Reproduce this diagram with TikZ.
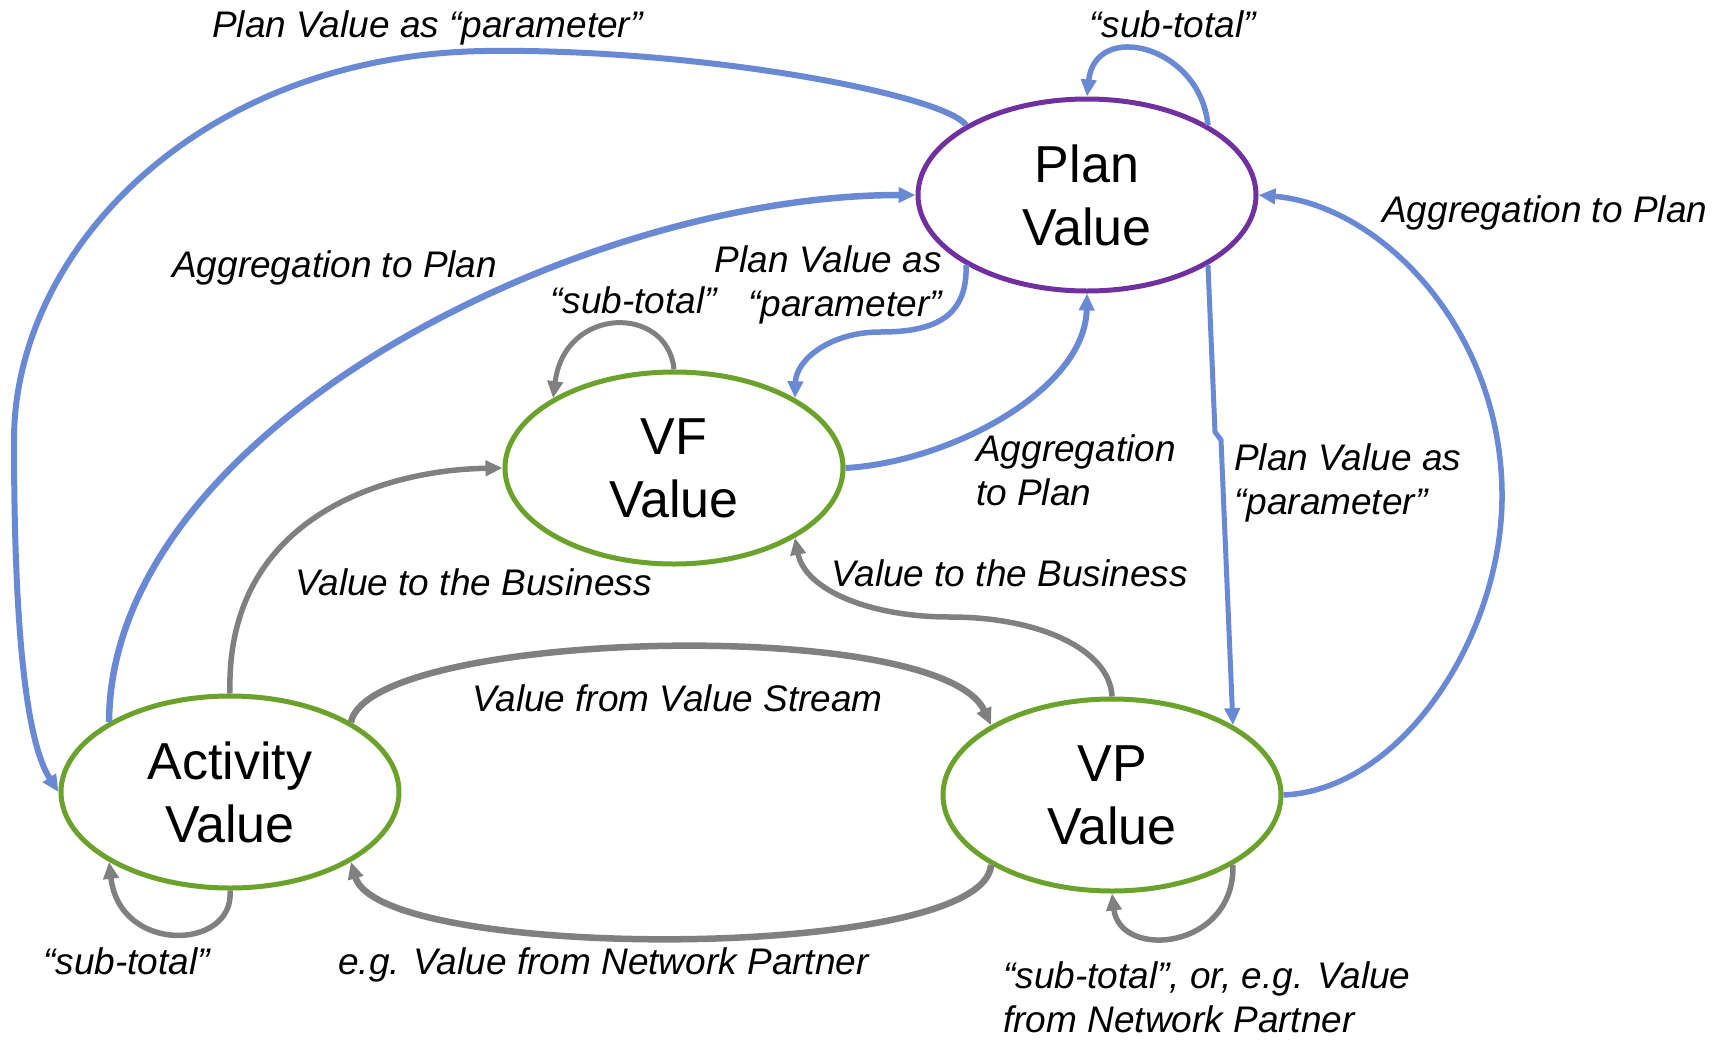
\documentclass[tikz,border=0pt]{standalone}
\usepackage{fontspec}
\setmainfont{Liberation Sans}
\usetikzlibrary{arrows.meta,shapes.geometric}
\definecolor{pvpurple}{HTML}{7030A0}
\definecolor{pvgreen}{HTML}{6AA22C}
\definecolor{pvblue}{HTML}{6A89D5}
\definecolor{pvgray}{HTML}{808080}
\begin{document}
\begin{tikzpicture}[x=1pt,y=-1pt,
 valnode/.style={ellipse, draw, line width=5pt, minimum width=338pt, minimum height=192pt, inner sep=0pt, align=center, font=\fontsize{52}{63}\selectfont},
 planring/.style={valnode, draw=pvpurple},
 greenring/.style={valnode, draw=pvgreen},
 blueflow/.style={draw=pvblue, line width=5.5pt, -{Triangle[length=17pt,width=15pt]}},
 grayflow/.style={draw=pvgray, line width=5.5pt, -{Triangle[length=17pt,width=15pt]}},
 lbl/.style={inner sep=0pt, font=\fontsize{37}{44}\selectfont\itshape}
]
\useasboundingbox[fill=white] (0,0) rectangle (1729,1039);

\node[planring] (plan) at (1087,195) {Plan\\Value};
\node[greenring] (vf) at (674,468) {VF\\Value};
\node[greenring] (act) at (230,792) {Activity\\Value};
\node[greenring] (vp) at (1112,795) {VP\\Value};

% blue connectors
\draw[blueflow, line width=6pt] (plan.150) .. controls (945,95) and (700,48) .. (485,51)
  .. controls (200,55) and (14,250) .. (14,440)
  .. controls (14,620) and (25,740) .. (act.west);
\draw[blueflow, line width=6.5pt] (act.150) .. controls (110,430) and (580,195) .. (plan.west);
\draw[blueflow] (plan.-150) .. controls (968,320) and (930,332) .. (880,332)
  .. controls (830,332) and (796,360) .. (vf.30);
\draw[blueflow, line width=6pt] (vf.east) .. controls (950,462) and (1085,390) .. (plan.south);
\draw[blueflow] (plan.30) .. controls (1200,45) and (1095,20) .. (plan.north);
\draw[blueflow, line width=5pt] (plan.-30) -- (1215,432) -- (1221,440) -- (vp.30);
\draw[blueflow] (vp.east) .. controls (1400,790) and (1500,640) .. (1502,500)
  .. controls (1504,330) and (1380,205) .. (plan.east);

% gray connectors
\draw[grayflow, line width=5pt] (vf.north) .. controls (668,305) and (565,305) .. (vf.150);
\draw[grayflow] (vp.north) .. controls (1110,650) and (1040,617) .. (950,617)
  .. controls (870,617) and (805,590) .. (vf.-30);
\draw[grayflow] (act.north) .. controls (225,520) and (380,470) .. (vf.west);
\draw[grayflow, line width=6.5pt] (act.30) .. controls (370,630) and (940,615) .. (vp.150);
\draw[grayflow, line width=6.5pt] (vp.-150) .. controls (985,962) and (380,962) .. (act.-30);
\draw[grayflow] (act.south) .. controls (235,950) and (120,955) .. (act.-150);
\draw[grayflow] (vp.-30) .. controls (1235,950) and (1120,960) .. (vp.south);

% labels
\node[lbl, anchor=base west] (l1) at (212,37) {Plan Value as “parameter”};
\node[lbl, anchor=base west] (l2) at (1089,37) {“sub-total”};
\node[lbl, anchor=base west] (l3) at (1382,222) {Aggregation to Plan};
\node[lbl, anchor=base west] (l4) at (172,277) {Aggregation to Plan};
\node[lbl, anchor=base east, align=right] (l5) at (942,316) {Plan Value as\\“parameter”};
\node[lbl, anchor=base west] (l6) at (550,313) {“sub-total”};
\node[lbl, anchor=base west, align=left] (l7) at (976,505) {Aggregation\\to Plan};
\node[lbl, anchor=base west, align=left] (l8) at (1234,514) {Plan Value as\\“parameter”};
\node[lbl, anchor=base west] (l9) at (831,586) {Value to the Business};
\node[lbl, anchor=base west] (l10) at (295,595) {Value to the Business};
\node[lbl, anchor=base west] (l11) at (472,711) {Value from Value Stream};
\node[lbl, anchor=base west] (l12) at (43,974) {“sub-total”};
\node[lbl, anchor=base west] (l13) at (338,974) {e.g. Value from Network Partner};
\node[lbl, anchor=base west, align=left] (l14) at (1003,1032) {“sub-total”, or, e.g. Value\\from Network Partner};
\end{tikzpicture}
\end{document}
